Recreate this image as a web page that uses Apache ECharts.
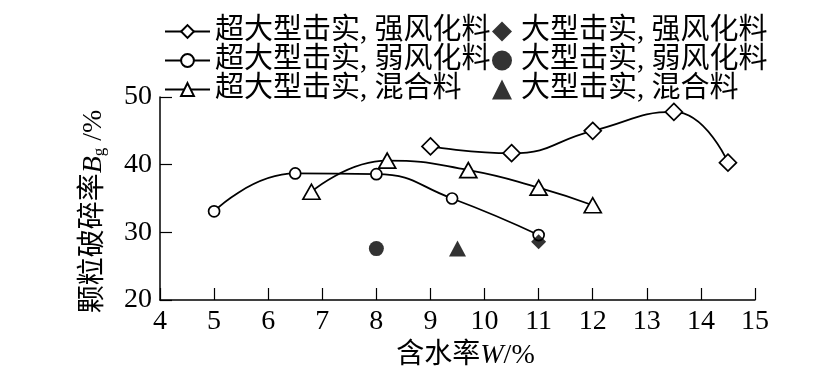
<!DOCTYPE html>
<html>
<head>
<meta charset="utf-8">
<script src="https://cdn.jsdelivr.net/npm/echarts@6/dist/echarts.min.js"></script>
<style>html,body{margin:0;padding:0;background:#fff;}#c{width:821px;height:375px;}</style>
</head>
<body>
<div id="c"></div>
<script>
// Data
var xStrong = [9, 10.5, 12, 13.5, 14.5];
var yStrong = [42.7, 41.7, 45.0, 47.8, 40.3];
var xWeak = [5, 6.5, 8, 9.4, 11];
var yWeak = [33.1, 38.7, 38.6, 35.0, 29.6];
var xMix = [6.8, 8.2, 9.7, 11, 12];
var yMix = [36.0, 40.6, 39.2, 36.6, 34.0];
var ptStrong = [11, 28.6];
var ptWeak = [8, 27.6];
var ptMix = [9.5, 27.6];
var names = ['超大型击实, 强风化料', '超大型击实, 弱风化料', '超大型击实, 混合料',
             '大型击实, 强风化料', '大型击实, 弱风化料', '大型击实, 混合料'];

function pairs(xs, ys) { return xs.map(function (x, i) { return [x, ys[i]]; }); }

var SERIF = '"Liberation Serif", "Times New Roman", serif';
var MIX = '"Liberation Serif", "Noto Sans CJK SC", serif';

var hollow = { color: '#fff', borderColor: '#000', borderWidth: 1.7 };
var lineSt = { color: '#000', width: 1.8 };

function lineSeries(name, data, symbol, size) {
  return {
    name: name, type: 'line', data: data, smooth: 0.5,
    symbol: symbol, symbolSize: size, showSymbol: true,
    lineStyle: lineSt, itemStyle: hollow, z: 3
  };
}
function scatterSeries(name, pt, symbol, size) {
  return {
    name: name, type: 'scatter', data: [pt], symbol: symbol, symbolSize: size,
    itemStyle: { color: '#000' }, z: 5
  };
}

var chart = echarts.init(document.getElementById('c'), null, { renderer: 'canvas' });
chart.setOption({
  animation: false,
  backgroundColor: '#fff',
  grid: { left: 160, right: 66, top: 97, bottom: 71, containLabel: false },
  legend: [
    {
      data: names.slice(0, 3), orient: 'vertical', left: 164, top: 17,
      itemWidth: 45, itemHeight: 16, itemGap: 0, padding: 0,
      textStyle: { fontFamily: MIX, fontSize: 29, color: '#000', lineHeight: 27 }
    },
    {
      data: names.slice(3), orient: 'vertical', left: 492, top: 17,
      itemWidth: 20, itemHeight: 20, itemGap: 0, padding: 0,
      textStyle: { fontFamily: MIX, fontSize: 29, color: '#000', lineHeight: 27, padding: [0, 0, 0, 4] }
    }
  ],
  xAxis: {
    type: 'value', min: 4, max: 15, interval: 1,
    axisLine: { show: true, lineStyle: { color: '#000', width: 1.5 } },
    axisTick: { show: true, inside: true, length: 12, lineStyle: { color: '#000', width: 1.2 } },
    axisLabel: { color: '#000', fontFamily: SERIF, fontSize: 28, margin: 8 },
    splitLine: { show: false },
    name: '{a|含水率}{b|W}{a|/%}', nameLocation: 'middle', nameGap: 42,
    nameTextStyle: {
      padding: [0, 0, 0, 16],
      rich: {
        a: { fontFamily: MIX, fontSize: 28, color: '#000' },
        b: { fontFamily: SERIF, fontSize: 28, fontStyle: 'italic', color: '#000' }
      }
    }
  },
  yAxis: {
    type: 'value', min: 20, max: 50, interval: 10,
    axisLine: { show: true, lineStyle: { color: '#000', width: 1.5 } },
    axisTick: { show: true, inside: true, length: 12, lineStyle: { color: '#000', width: 1.2 } },
    axisLabel: { color: '#000', fontFamily: SERIF, fontSize: 28, margin: 8 },
    splitLine: { show: false },
    name: '{a|颗粒破碎率}{b|B}{c|g}{a| /%}', nameLocation: 'middle', nameGap: 52, nameRotate: 90,
    nameTextStyle: {
      padding: [0, 26, 0, 0],
      rich: {
        a: { fontFamily: MIX, fontSize: 28, color: '#000' },
        b: { fontFamily: SERIF, fontSize: 28, fontStyle: 'italic', color: '#000' },
        c: { fontFamily: SERIF, fontSize: 17, color: '#000', verticalAlign: 'bottom', padding: [12, 0, 0, 0] }
      }
    }
  },
  series: [
    lineSeries(names[0], pairs(xStrong, yStrong), 'diamond', 17),
    lineSeries(names[1], pairs(xWeak, yWeak), 'circle', 11),
    lineSeries(names[2], pairs(xMix, yMix), 'triangle', [17, 15]),
    scatterSeries(names[3], ptStrong, 'diamond', 15),
    scatterSeries(names[4], ptWeak, 'circle', 15),
    scatterSeries(names[5], ptMix, 'triangle', [17, 16])
  ]
});
</script>
</body>
</html>
